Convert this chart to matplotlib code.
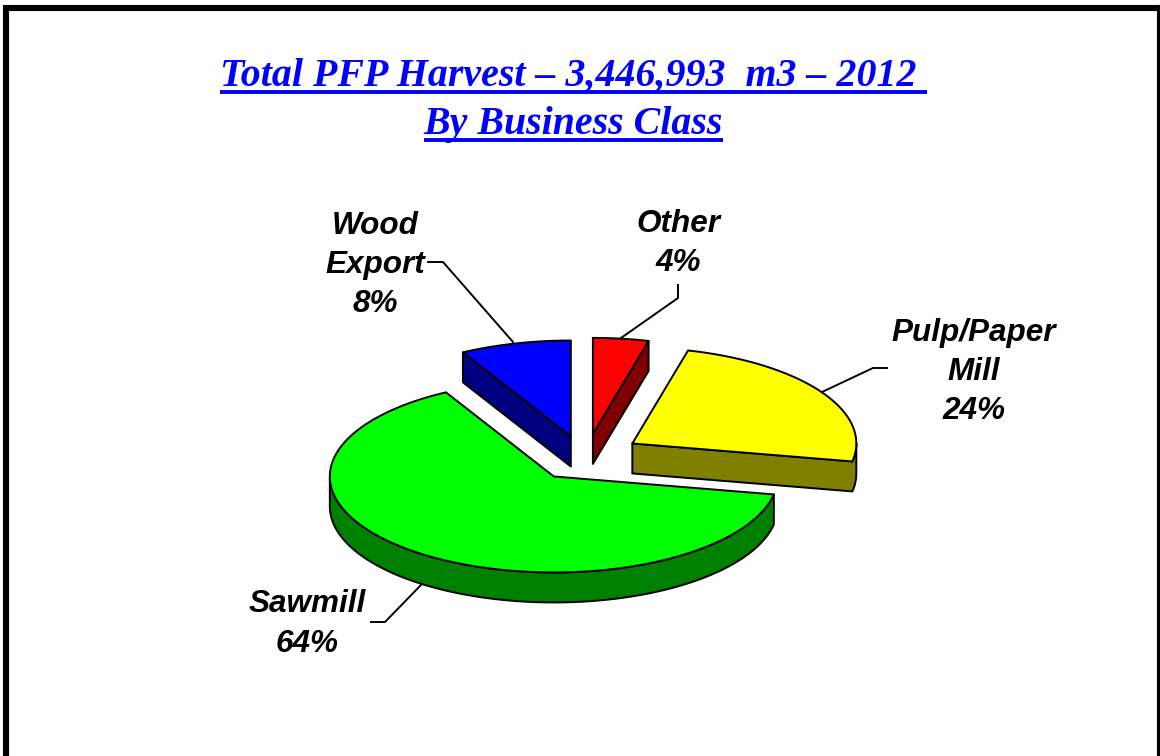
import numpy as np
import matplotlib
matplotlib.use("Agg")
import matplotlib.pyplot as plt
from matplotlib.patches import Polygon

categories = ["Other", "Pulp/Paper\nMill", "Sawmill", "Wood\nExport"]
shares = [4, 24, 64, 8]
face_colors = ["#FF0000", "#FFFF00", "#00FF00", "#0000FF"]
side_colors = ["#800000", "#808000", "#008000", "#000080"]
title_lines = ["Total PFP Harvest – 3,446,993  m3 – 2012 ", "By Business Class"]

W, H = 1160, 756
fig = plt.figure(figsize=(W / 100, H / 100), dpi=100, facecolor="white")
ax = fig.add_axes([0, 0, 1, 1])
ax.set_xlim(0, W)
ax.set_ylim(H, 0)
ax.axis("off")

# frame (runs off the bottom and right edges)
ax.plot([6, 6, 1160.5, 1160.5], [H + 5, 8, 8, H + 5], color="black", lw=4.4,
        solid_joinstyle="miter", clip_on=False, zorder=1)
ax.plot([1159.5, 1159.5], [8, H], color="black", lw=4.4, zorder=1)

# pie geometry
cx, cy = 585.5, 460.0
rx, ry = 224.0, 96.0
explode = 59.0
depth = 30.0
k = ry / rx
nudges = [(0, -1), (-3, -3), (3, -4), (0, 1)]


def slice_outline(a0, a1, nudge):
    """Top face of a slice spanning a0 -> a1 degrees (clockwise)."""
    mid = np.radians((a0 + a1) / 2)
    ox = cx + explode * np.cos(mid) + nudge[0]
    oy = cy - explode * np.sin(mid) * k + nudge[1]
    th = np.radians(np.linspace(a0, a1, 120))
    xs = ox + rx * np.cos(th)
    ys = oy - ry * np.sin(th)
    return np.r_[ox, xs], np.r_[oy, ys]


def visible_runs(xs, ys):
    """Runs of edges whose outward normal points down the screen."""
    n = len(xs)
    area = np.sum(xs * np.roll(ys, -1) - np.roll(xs, -1) * ys)
    vis = []
    for i in range(n):
        j = (i + 1) % n
        dx = xs[j] - xs[i]
        ny = -dx if area > 0 else dx
        vis.append(ny > 1e-9)
    start = next((i for i in range(n) if not vis[i]), 0)
    runs, cur = [], []
    for s in range(1, n + 1):
        i = (start + s) % n
        if vis[i]:
            if not cur:
                cur = [i]
            cur.append((i + 1) % n)
        elif cur:
            runs.append(cur)
            cur = []
    if cur:
        runs.append(cur)
    return runs


angle = 90.0
for share, fc, sc, nudge in zip(shares, face_colors, side_colors, nudges):
    span = share / sum(shares) * 360
    xs, ys = slice_outline(angle, angle - span, nudge)
    for run in visible_runs(xs, ys):
        rxs, rys = xs[run], ys[run]
        pts = np.c_[np.r_[rxs, rxs[::-1]], np.r_[rys, rys[::-1] + depth]]
        ax.add_patch(Polygon(pts, closed=True, fc=sc, ec="black", lw=1.4,
                             joinstyle="round", zorder=2))
    ax.add_patch(Polygon(np.c_[xs, ys], closed=True, fc=fc, ec="black", lw=1.4,
                         joinstyle="round", zorder=3))
    angle -= span

# data labels and leader lines
label_pos = [(678, 243.5), (974, 372), (307, 624), (375, 265)]
leaders = [
    ([678, 678, 621], [285, 298, 338]),
    ([887, 873, 822], [368, 368, 392]),
    ([371, 385, 421], [622, 622, 585]),
    ([428, 443, 513], [262, 262, 342]),
]
for name, share, (lx, ly), (lxs, lys) in zip(categories, shares, label_pos, leaders):
    ax.text(lx, ly, f"{name}\n{share}%", ha="center", va="center", multialignment="center",
            family="Liberation Sans", weight="bold", style="italic", fontsize=22.7,
            color="black", linespacing=1.41, zorder=5)
    ax.plot(lxs, lys, color="black", lw=1.4, zorder=4)

# underlined title
fig.canvas.draw()
renderer = fig.canvas.get_renderer()
title_color = "#0000FF"
for line, yb, yu in zip(title_lines, [86, 134], [92, 140]):
    t = ax.text(573.5, yb, line, ha="center", va="baseline", family="Liberation Serif",
                weight="bold", style="italic", fontsize=28.7, color=title_color, zorder=5)
    bb = t.get_window_extent(renderer)
    ax.plot([bb.x0, bb.x1], [yu, yu], color=title_color, lw=2.8, zorder=5,
            solid_capstyle="butt")

fig.savefig("out.png", dpi=100, facecolor="white")
